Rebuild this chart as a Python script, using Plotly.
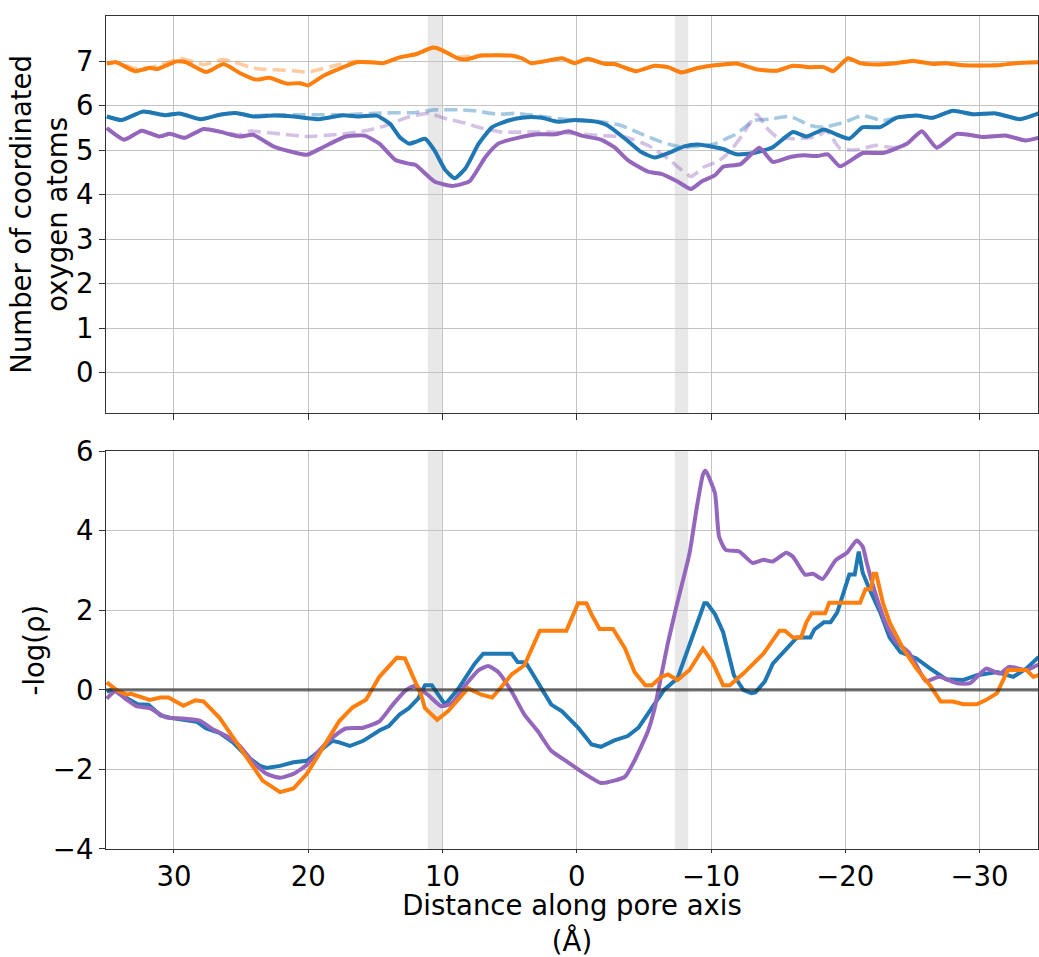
import plotly.graph_objects as go
from plotly.subplots import make_subplots

# ---------------- data: top panel (coordination numbers) ----------------
top_orange_x = [35.0, 34.3, 32.9, 31.8, 31.2, 29.8, 29.1, 27.6, 26.3, 25.1, 23.9, 22.9, 21.6, 20.6, 20.0, 18.9,
                17.7, 16.4, 15.4, 14.4, 13.2, 12.0, 10.7, 10.1, 8.8, 8.3, 7.1, 4.9, 4.1, 3.4, 2.1, 1.1, 0.15,
                -0.8, -2.1, -2.8, -4.4, -5.8, -6.8, -7.8, -9.0, -10.0, -10.9, -11.9, -13.4, -14.9, -16.1,
                -17.4, -18.4, -19.1, -20.2, -21.1, -22.3, -23.8, -25.1, -26.5, -27.5, -28.8, -31.2, -32.7, -34.4]
top_orange_y = [6.95, 6.98, 6.78, 6.85, 6.83, 7.0, 6.98, 6.76, 6.94, 6.74, 6.59, 6.63, 6.5, 6.51, 6.46, 6.67,
                6.83, 6.98, 6.98, 6.96, 7.09, 7.16, 7.31, 7.26, 7.06, 7.04, 7.13, 7.13, 7.07, 6.96, 7.02, 7.07, 6.96,
                7.06, 6.94, 6.94, 6.78, 6.9, 6.87, 6.75, 6.85, 6.9, 6.93, 6.95, 6.82, 6.79, 6.9,
                6.87, 6.87, 6.78, 7.07, 6.96, 6.93, 6.96, 7.01, 6.94, 6.96, 6.91, 6.91, 6.96, 6.98]

top_orange_ref_x = [35.0, 34.3, 32.9, 31.5, 29.4, 27.8, 26.3, 23.9, 21.1, 20.0, 17.7, 16.4, 15.4, 14.4, 13.2,
                    12.0, 10.7, 10.1, 8.8, 7.1, 4.9, 4.1, 3.4, 2.1, 1.1, 0.15, -0.8, -2.1, -2.8, -4.4, -5.8,
                    -6.8, -7.8, -9.0, -10.0, -10.9, -11.9, -13.4, -14.9, -16.1, -17.4, -18.4, -19.1, -20.2,
                    -21.1, -22.3, -23.8, -25.1, -26.5, -27.5, -28.8, -31.2, -32.7, -34.4]
top_orange_ref_y = [6.95, 6.98, 6.84, 6.88, 7.06, 6.93, 7.04, 6.84, 6.79, 6.76, 6.93, 7.0, 6.98, 6.96, 7.09,
                    7.16, 7.31, 7.26, 7.1, 7.14, 7.13, 7.07, 6.97, 7.02, 7.07, 6.97, 7.06, 6.95, 6.94, 6.79, 6.9,
                    6.87, 6.76, 6.85, 6.9, 6.93, 6.95, 6.82, 6.79, 6.9, 6.87, 6.87, 6.78, 7.07,
                    6.96, 6.93, 6.96, 7.01, 6.94, 6.96, 6.91, 6.91, 6.96, 6.98]

top_blue_x = [35.0, 33.9, 32.3, 30.6, 29.6, 28.0, 26.6, 25.4, 24.1, 22.6, 21.1, 19.2, 17.4, 16.2, 14.9, 13.9,
              13.2, 12.5, 12.0, 11.3, 10.6, 9.8, 9.1, 8.3, 7.3, 6.3, 5.1, 3.9, 2.6, 1.4, 0.15, -1.3, -2.3,
              -3.6, -4.8, -5.8, -7.0, -8.0, -9.0, -10.3, -10.9, -11.9, -13.2, -14.6, -16.1, -17.1, -18.4,
              -19.4, -20.3, -21.3, -22.6, -23.8, -25.3, -26.5, -28.0, -29.5, -31.2, -33.0, -34.4]
top_blue_y = [5.76, 5.68, 5.87, 5.79, 5.83, 5.7, 5.8, 5.84, 5.76, 5.78, 5.76, 5.7, 5.79, 5.76, 5.78, 5.59,
              5.3, 5.15, 5.19, 5.26, 5.0, 4.56, 4.37, 4.59, 5.15, 5.52, 5.67, 5.74, 5.73, 5.64, 5.68, 5.65, 5.56,
              5.26, 4.96, 4.84, 4.96, 5.09, 5.13, 5.07, 5.03, 4.91, 4.94, 5.07, 5.41, 5.31, 5.47,
              5.35, 5.26, 5.52, 5.52, 5.73, 5.78, 5.73, 5.89, 5.81, 5.83, 5.7, 5.83]

top_blue_ref_x = [35.0, 33.9, 32.3, 30.6, 29.6, 28.0, 26.6, 25.4, 24.1, 22.6, 20.0, 17.4, 14.5, 12.0, 10.6,
                  8.6, 7.6, 5.85, 4.6, 2.6, 0.15, -1.5, -3.3, -4.8, -6.3, -7.8, -9.4, -10.3, -11.4, -11.9,
                  -13.2, -14.4, -15.9, -17.4, -18.4, -19.9, -21.3, -22.8, -23.8, -25.3, -26.5, -28.0, -29.5,
                  -31.2, -33.0, -34.4]
top_blue_ref_y = [5.76, 5.68, 5.87, 5.79, 5.83, 5.7, 5.8, 5.84, 5.78, 5.8, 5.8, 5.8, 5.84, 5.85, 5.91,
                  5.91, 5.89, 5.81, 5.83, 5.76, 5.67, 5.65, 5.56, 5.37, 5.19, 5.07, 5.1, 5.15, 5.3, 5.37,
                  5.67, 5.7, 5.76, 5.56, 5.52, 5.63, 5.78, 5.67, 5.73, 5.78, 5.73, 5.89, 5.81,
                  5.83, 5.7, 5.83]

top_purple_x = [35.0, 33.7, 32.4, 31.1, 30.3, 29.2, 27.8, 26.6, 25.1, 24.1, 22.6, 21.4, 20.1, 18.9, 17.2,
                15.8, 14.7, 13.5, 12.5, 12.0, 10.6, 9.3, 8.0, 6.8, 5.85, 4.4, 2.9, 1.6, 0.6, -0.35, -1.8,
                -2.8, -3.8, -5.3, -6.3, -7.5, -8.5, -9.3, -10.3, -10.9, -12.2, -13.6, -14.6, -15.9, -16.9,
                -17.9, -18.7, -19.6, -21.3, -22.8, -24.6, -25.7, -26.8, -28.3, -30.3, -32.0, -33.4, -34.4]
top_purple_y = [5.5, 5.24, 5.44, 5.31, 5.37, 5.28, 5.48, 5.42, 5.31, 5.35, 5.09, 4.98, 4.9, 5.07, 5.31,
                5.33, 5.15, 4.78, 4.7, 4.67, 4.3, 4.2, 4.3, 4.85, 5.15, 5.28, 5.36, 5.36, 5.43, 5.33, 5.24,
                5.07, 4.78, 4.52, 4.47, 4.3, 4.13, 4.3, 4.44, 4.63, 4.69, 5.06, 4.74, 4.85, 4.89,
                4.87, 4.91, 4.64, 4.94, 4.94, 5.15, 5.43, 5.06, 5.37, 5.3, 5.33, 5.22, 5.28]

top_purple_ref_x = [35.0, 33.7, 32.4, 31.1, 30.3, 29.2, 27.8, 26.6, 25.1, 24.4, 22.1, 20.1, 17.7, 15.7, 14.2,
                    12.7, 11.1, 9.6, 8.3, 7.1, 5.6, 3.9, 2.1, 0.15, -1.8, -3.6, -5.3, -6.8, -7.8, -8.5, -9.5,
                    -10.5, -11.4, -12.4, -13.4, -14.1, -14.9, -16.4, -17.9, -18.6, -19.6, -20.8, -22.3, -23.6,
                    -24.6, -25.7, -26.8, -28.3, -30.3, -32.0, -33.4, -34.4]
top_purple_ref_y = [5.5, 5.24, 5.44, 5.31, 5.37, 5.28, 5.48, 5.42, 5.35, 5.43, 5.37, 5.31, 5.36, 5.44, 5.56,
                    5.73, 5.83, 5.7, 5.61, 5.5, 5.41, 5.41, 5.41, 5.38, 5.33, 5.3, 5.11, 4.81, 4.56, 4.41, 4.63,
                    4.75, 4.97, 5.37, 5.81, 5.52, 5.3, 5.26, 5.31, 5.44, 5.04, 5.01, 5.11, 5.06,
                    5.15, 5.43, 5.06, 5.37, 5.3, 5.33, 5.22, 5.28]

# ---------------- data: bottom panel (-log rho) ----------------
bot_blue_x = [35.0, 34.5, 33.5, 32.7, 31.9, 31.0, 30.3, 29.3, 28.3, 27.6, 26.6, 25.6, 24.6, 23.6, 23.1, 22.1,
              21.1, 20.1, 19.2, 18.2, 17.7, 16.9, 15.9, 14.7, 14.0, 13.2, 12.5, 11.8, 11.3, 10.8, 9.8, 8.8,
              7.6, 6.97, 4.85, 4.4, 3.8, 2.6, 1.9, 1.1, -0.1, -1.1, -1.8, -2.8, -3.8, -4.6, -5.6, -6.5,
              -7.5, -8.5, -9.5, -9.7, -10.3, -10.9, -11.4, -11.7, -12.4, -13.0, -13.3, -14.0, -14.6, -15.4,
              -16.4, -17.4, -17.7, -18.4, -18.9, -19.4, -19.9, -20.3, -20.7, -21.0, -21.3, -21.8, -22.6,
              -23.3, -24.1, -25.3, -26.3, -27.5, -28.8, -29.8, -31.3, -32.5, -33.5, -34.4]
bot_blue_y = [-0.04, 0.02, -0.21, -0.36, -0.37, -0.64, -0.7, -0.75, -0.8, -0.97, -1.08, -1.32, -1.66, -1.91, -1.96, -1.91,
              -1.82, -1.78, -1.53, -1.28, -1.32, -1.41, -1.28, -1.02, -0.91, -0.62, -0.46, -0.21, 0.12, 0.12, -0.37, 0.04,
              0.66, 0.91, 0.91, 0.7, 0.69, 0.0, -0.37, -0.54, -0.95, -1.37, -1.43, -1.27, -1.16, -0.95, -0.46, 0.0,
              0.29, 1.2, 2.18, 2.18, 1.9, 1.45, 0.79, 0.37, 0.0, -0.08, -0.06, 0.21, 0.66, 0.95,
              1.32, 1.32, 1.52, 1.7, 1.7, 1.95, 2.48, 2.9, 2.9, 3.48, 2.94, 2.53, 1.95,
              1.32, 0.95, 0.79, 0.54, 0.27, 0.25, 0.37, 0.45, 0.33, 0.54, 0.83]

bot_purple_x = [35.0, 34.4, 33.5, 32.8, 31.8, 30.6, 29.3, 28.1, 27.1, 26.1, 25.1, 24.1, 23.1, 22.1, 21.1, 20.1,
                19.2, 18.2, 17.2, 15.9, 14.7, 13.7, 12.7, 12.1, 11.1, 10.1, 9.3, 8.3, 7.3, 6.6, 5.85, 4.85,
                3.9, 2.9, 1.9, 0.65, -0.6, -1.8, -2.8, -3.6, -4.3, -5.3, -5.8, -6.3, -6.8, -7.4, -8.4, -8.9,
                -9.4, -9.57, -9.75, -10.3, -10.6, -11.1, -12.1, -13.1, -13.9, -14.6, -15.6, -16.1, -17.0,
                -17.6, -18.3, -19.3, -20.1, -20.85, -21.3, -21.6, -22.3, -23.1, -23.8, -24.7, -25.3, -26.0,
                -27.0, -28.3, -29.3, -30.5, -31.5, -32.2, -33.5, -34.4]
bot_purple_y = [-0.22, -0.04, -0.25, -0.41, -0.46, -0.69, -0.72, -0.77, -0.99, -1.16, -1.41, -1.82, -2.11, -2.21, -2.11, -1.88,
                -1.53, -1.2, -0.97, -0.95, -0.79, -0.37, 0.0, 0.1, -0.12, -0.41, -0.33, 0.12, 0.5, 0.6, 0.45, -0.04,
                -0.62, -1.04, -1.53, -1.82, -2.11, -2.34, -2.28, -2.18, -1.78, -1.04, -0.46, 0.37, 1.2, 2.07, 3.44, 4.51,
                5.42, 5.51, 5.42, 4.93, 3.85, 3.52, 3.48, 3.19, 3.27, 3.23, 3.45, 3.35, 2.9,
                2.92, 2.79, 3.27, 3.44, 3.76, 3.6, 3.19, 2.36, 1.61, 1.2, 0.95, 0.62, 0.22,
                0.33, 0.17, 0.17, 0.54, 0.41, 0.58, 0.5, 0.64]

bot_orange_x = [35.0, 34.3, 33.5, 33.2, 31.8, 31.0, 30.4, 29.3, 28.4, 27.8, 26.6, 25.6, 24.4, 23.4, 22.1, 21.1,
                20.1, 19.2, 17.7, 16.7, 15.7, 14.7, 13.7, 13.4, 12.8, 12.05, 11.6, 11.3, 10.4, 9.6, 8.1, 7.1,
                6.3, 5.6, 4.85, 3.9, 3.1, 2.75, 0.77, 0.27, -0.1, -0.72, -1.1, -1.7, -2.7, -3.6, -4.3, -5.1,
                -5.6, -6.3, -6.8, -7.5, -8.4, -9.4, -10.1, -10.9, -11.4, -12.4, -13.9, -15.1, -15.5, -16.1,
                -16.7, -17.1, -17.5, -18.5, -18.8, -21.1, -21.5, -21.9, -22.1, -22.3, -22.8, -23.3, -24.3,
                -25.3, -26.3, -27.1, -28.0, -28.8, -29.8, -30.5, -31.3, -32.1, -33.5, -34.0, -34.4]
bot_orange_y = [0.19, 0.0, -0.12, -0.1, -0.25, -0.19, -0.19, -0.4, -0.26, -0.29, -0.7, -1.2, -1.78, -2.28, -2.57, -2.48,
                -2.11, -1.61, -0.79, -0.44, -0.25, 0.33, 0.7, 0.81, 0.79, 0.21, -0.12, -0.46, -0.75, -0.54, 0.04, -0.12,
                -0.19, 0.08, 0.39, 0.62, 1.2, 1.49, 1.49, 1.9, 2.18, 2.18, 1.9, 1.53, 1.53, 1.04, 0.45, 0.12,
                0.12, 0.33, 0.39, 0.25, 0.5, 1.04, 0.7, 0.12, 0.12, 0.41, 0.91, 1.49, 1.49, 1.32,
                1.32, 1.7, 1.93, 1.93, 2.19, 2.19, 2.53, 2.53, 2.92, 2.92, 2.19, 1.7, 1.04,
                0.54, 0.12, -0.29, -0.29, -0.36, -0.36, -0.25, -0.08, 0.5, 0.5, 0.33, 0.37]

x_ticks = [30, 20, 10, 0, -10, -20, -30]
top_y_ticks = [0, 1, 2, 3, 4, 5, 6, 7]
bot_y_ticks = [-4, -2, 0, 2, 4, 6]
bands = [(11.1, 10.05), (-7.3, -8.3)]

# ---------------- styles ----------------
BLUE = "#1f77b4"
ORANGE = "#ff7f0e"
PURPLE = "#9467bd"
BLUE_L = "rgba(31,119,180,0.4)"
ORANGE_L = "rgba(255,127,14,0.4)"
PURPLE_L = "rgba(148,103,189,0.4)"
FONT = "DejaVu Sans"
FS = 27.5
LW = 4
DASH = "13px,6px"
SMOOTH = dict(shape="spline", smoothing=0.5)

fig = make_subplots(rows=2, cols=1, shared_xaxes=True, vertical_spacing=0.05)

# top panel: dashed reference first, solid on top
for xs, ys, c in [(top_orange_ref_x, top_orange_ref_y, ORANGE_L),
                  (top_blue_ref_x, top_blue_ref_y, BLUE_L),
                  (top_purple_ref_x, top_purple_ref_y, PURPLE_L)]:
    fig.add_trace(go.Scatter(x=xs, y=ys, mode="lines",
                             line=dict(color=c, width=LW - 0.4, dash=DASH, **SMOOTH),
                             showlegend=False, hoverinfo="skip"), row=1, col=1)
for xs, ys, c in [(top_orange_x, top_orange_y, ORANGE),
                  (top_blue_x, top_blue_y, BLUE),
                  (top_purple_x, top_purple_y, PURPLE)]:
    fig.add_trace(go.Scatter(x=xs, y=ys, mode="lines", line=dict(color=c, width=LW, **SMOOTH),
                             showlegend=False), row=1, col=1)

# bottom panel
fig.add_trace(go.Scatter(x=bot_blue_x, y=bot_blue_y, mode="lines", line=dict(color=BLUE, width=LW),
                         showlegend=False), row=2, col=1)
fig.add_trace(go.Scatter(x=bot_purple_x, y=bot_purple_y, mode="lines",
                         line=dict(color=PURPLE, width=LW, **SMOOTH), showlegend=False), row=2, col=1)
fig.add_trace(go.Scatter(x=bot_orange_x, y=bot_orange_y, mode="lines", line=dict(color=ORANGE, width=LW),
                         showlegend=False), row=2, col=1)

shapes = []
for x0, x1 in bands:
    for yref in ["y domain", "y2 domain"]:
        shapes.append(dict(type="rect", xref="x", yref=yref, x0=x0, x1=x1, y0=0, y1=1,
                           fillcolor="rgba(0,0,0,0.09)", line=dict(width=0), layer="below"))
shapes.append(dict(type="line", xref="x2 domain", yref="y2", x0=0, x1=1, y0=0, y1=0,
                   line=dict(color="rgba(40,40,40,0.65)", width=3.4), layer="above"))

axis_common = dict(showline=True, mirror=True, linecolor="#333333", linewidth=1.2,
                   ticks="outside", ticklen=6, tickwidth=1.2, tickcolor="#333333",
                   showgrid=True, gridcolor="#c4c4c4", gridwidth=1, zeroline=False,
                   tickfont=dict(family=FONT, size=FS, color="black"))

H = 957
top_dom = [(856 - 415) / (H - 14 - 101), 1.0]
bot_dom = [0.0, (856 - 454) / (H - 14 - 101)]

fig.update_layout(
    width=1039, height=957,
    margin=dict(l=106, r=0, t=14, b=101),
    plot_bgcolor="white", paper_bgcolor="white",
    font=dict(family=FONT, size=FS, color="black"),
    shapes=shapes,
    showlegend=False,
    xaxis=dict(axis_common, range=[35.06, -34.35], tickvals=x_ticks, showticklabels=False),
    xaxis2=dict(axis_common, range=[35.06, -34.35], tickvals=x_ticks, matches="x", ticklen=3,
                title=dict(text="Distance along pore axis<br>(Å)", standoff=10,
                           font=dict(family=FONT, size=FS))),
    yaxis=dict(axis_common, domain=top_dom, range=[-0.9, 8.02], tickvals=top_y_ticks,
               title=dict(text="Number of coordinated<br>oxygen atoms", standoff=0,
                          font=dict(family=FONT, size=FS))),
    yaxis2=dict(axis_common, domain=bot_dom, range=[-4, 6], tickvals=bot_y_ticks,
                title=dict(text="-log(ρ)", standoff=0, font=dict(family=FONT, size=FS))),
)

fig.write_html("out.html")
